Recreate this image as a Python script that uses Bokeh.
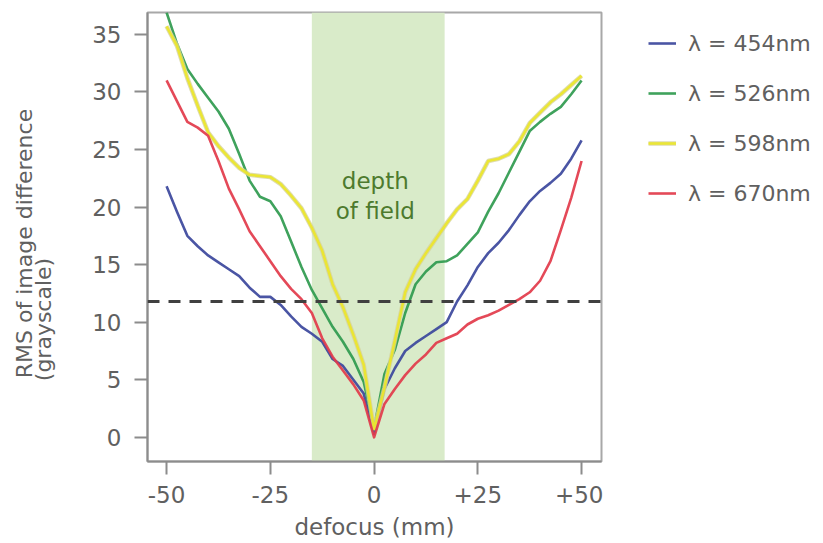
import math

from bokeh.embed import file_html
from bokeh.layouts import row
from bokeh.models import (BoxAnnotation, FixedTicker, Label, Legend, LegendItem,
                          Range1d, Span)
from bokeh.plotting import figure
from bokeh.resources import INLINE

# Defocus positions (mm) at which the image difference was measured
defocus_mm = [-50.0, -47.5, -45.0, -42.5, -40.0, -37.5, -35.0, -32.5, -30.0, -27.5,
              -25.0, -22.5, -20.0, -17.5, -15.0, -12.5, -10.0, -7.5, -5.0, -2.5,
              0.0, 2.5, 5.0, 7.5, 10.0, 12.5, 15.0, 17.5, 20.0, 22.5,
              25.0, 27.5, 30.0, 32.5, 35.0, 37.5, 40.0, 42.5, 45.0, 47.5, 50.0]

# RMS of image difference (grayscale) for each wavelength
rms_454 = [21.8, 19.6, 17.5, 16.6, 15.8, 15.2, 14.6, 14.0, 13.0, 12.2,
           12.2, 11.5, 10.5, 9.6, 9.0, 8.3, 6.8, 6.2, 5.0, 3.8,
           0.3, 4.2, 6.0, 7.5, 8.2, 8.8, 9.4, 10.0, 11.8, 13.2,
           14.8, 16.0, 16.9, 18.0, 19.3, 20.5, 21.4, 22.1, 22.9, 24.2, 25.8]
rms_526 = [36.9, 34.2, 32.0, 30.7, 29.5, 28.3, 26.8, 24.6, 22.3, 20.9,
           20.5, 19.2, 17.0, 14.8, 12.8, 11.2, 9.6, 8.3, 6.8, 4.8,
           0.8, 5.5, 7.6, 10.8, 13.3, 14.4, 15.2, 15.3, 15.8, 16.8,
           17.8, 19.6, 21.2, 23.0, 24.8, 26.6, 27.4, 28.1, 28.7, 29.8, 31.0]
rms_598 = [35.7, 34.0, 31.2, 28.8, 26.5, 25.3, 24.3, 23.4, 22.8, 22.7,
           22.6, 22.0, 21.0, 19.9, 18.2, 16.2, 13.3, 11.3, 8.9, 6.3,
           0.7, 4.3, 8.4, 12.6, 14.6, 16.0, 17.3, 18.6, 19.8, 20.7,
           22.3, 24.0, 24.2, 24.6, 25.7, 27.3, 28.2, 29.1, 29.8, 30.6, 31.4]
rms_670 = [31.0, 29.2, 27.4, 26.9, 26.2, 24.0, 21.6, 19.8, 17.9, 16.6,
           15.3, 14.0, 12.9, 12.0, 10.8, 8.6, 7.0, 5.8, 4.6, 3.2,
           0.0, 2.9, 4.2, 5.4, 6.4, 7.2, 8.2, 8.6, 9.0, 9.8,
           10.3, 10.6, 11.0, 11.5, 12.0, 12.6, 13.6, 15.3, 18.0, 20.8, 24.0]

series_labels = ["λ = 454nm", "λ = 526nm", "λ = 598nm", "λ = 670nm"]
series_colors = ["#3b479c", "#2f9a4e", "#ece62a", "#e23a4a"]
YELLOW_HALO = "#d6d39c"

x_ticks = [-50, -25, 0, 25, 50]
x_tick_labels = ["-50", "-25", "0", "+25", "+50"]
y_ticks = [0, 5, 10, 15, 20, 25, 30, 35]

threshold_rms = 11.8          # dashed reference level
dof_left, dof_right = -15, 17  # depth-of-field band (mm)

FONT = "DejaVu Sans"
TEXT_COLOR = "#606060"
AXIS_COLOR = "#8c8c8c"
HEIGHT = 543
FRAME_BOTTOM = 461   # pixel row of the plot frame's lower edge (frames are aligned in the row)


def bare_panel(width):
    """A plain canvas with no axes, used for the side texts."""
    f = figure(width=width, height=HEIGHT, output_backend="svg", toolbar_location=None,
               x_range=Range1d(0, 1), y_range=Range1d(0, 1),
               x_axis_location=None, y_axis_location=None,
               min_border=0, min_border_left=0, min_border_right=0,
               min_border_top=0, min_border_bottom=0)
    f.outline_line_color = None
    f.grid.visible = False
    f.background_fill_color = "white"
    f.border_fill_color = "white"
    return f


# ---- main chart ----
p = figure(width=543, height=HEIGHT, output_backend="svg", toolbar_location=None,
           x_range=Range1d(-54.6, 54.8), y_range=Range1d(-2.1, 36.9),
           min_border_left=87, min_border_right=2,
           min_border_top=12, min_border_bottom=82)

p.background_fill_color = "white"
p.border_fill_color = "white"
p.outline_line_color = "#a8a8a8"
p.outline_line_width = 2
p.grid.visible = False

for ax in (p.xaxis[0], p.yaxis[0]):
    ax.axis_line_color = AXIS_COLOR
    ax.axis_line_width = 2
    ax.major_tick_line_color = AXIS_COLOR
    ax.major_tick_line_width = 2
    ax.major_tick_in = 0
    ax.major_tick_out = 13
    ax.minor_tick_line_color = None
    ax.major_label_text_font = FONT
    ax.major_label_text_font_size = "23px"
    ax.major_label_text_color = TEXT_COLOR

p.xaxis.ticker = FixedTicker(ticks=x_ticks)
p.xaxis.major_label_overrides = dict(zip(x_ticks, x_tick_labels))
p.xaxis.major_label_standoff = 11
p.xaxis.axis_label = "defocus (mm)"
p.xaxis.axis_label_text_font = FONT
p.xaxis.axis_label_text_font_size = "23px"
p.xaxis.axis_label_text_font_style = "normal"
p.xaxis.axis_label_text_color = TEXT_COLOR
p.xaxis.axis_label_standoff = 8

p.yaxis.ticker = FixedTicker(ticks=y_ticks)
p.yaxis.major_label_standoff = 13

# depth-of-field band
p.add_layout(BoxAnnotation(left=dof_left, right=dof_right, fill_color="#d9ebc9",
                           fill_alpha=1.0, line_color=None, level="underlay"))

# threshold line
p.add_layout(Span(location=threshold_rms, dimension="width", line_color="#404040",
                  line_width=3, line_dash="12 9"))

series = [rms_454, rms_526, rms_598, rms_670]
for color, values in zip(series_colors, series):
    if color == "#ece62a":
        p.line(defocus_mm, values, line_color=YELLOW_HALO, line_width=4.5, line_alpha=0.8)
    p.line(defocus_mm, values, line_color=color, line_width=2.6,
           line_alpha=0.92, line_join="round")

# band caption
for txt, yv in (("depth", 22.3), ("of field", 19.7)):
    p.add_layout(Label(x=0.3, y=yv, text=txt, text_align="center",
                       text_baseline="middle", text_font=FONT,
                       text_font_size="23px", text_color="#4d7a2e"))

# ---- y-axis title (two lines, rotated) ----
ytitle = bare_panel(60)
for txt, sx, sy in (("RMS of image difference", 24, FRAME_BOTTOM - 243),
                    ("(grayscale)", 43, FRAME_BOTTOM - 319)):
    ytitle.add_layout(Label(x=sx, y=sy, x_units="screen", y_units="screen",
                            text=txt, angle=math.pi / 2, text_align="center",
                            text_baseline="middle", text_font=FONT,
                            text_font_size="22px", text_color=TEXT_COLOR))

# ---- legend (keys are placeholder lines with a single NaN point) ----
key = bare_panel(220)
items = []
for label, color in zip(series_labels, series_colors):
    keys = []
    if color == "#ece62a":
        keys.append(key.line([math.nan], [math.nan], line_color=YELLOW_HALO,
                             line_width=4.5, line_alpha=0.8))
    keys.append(key.line([math.nan], [math.nan], line_color=color, line_width=2.6,
                         line_alpha=0.92))
    items.append(LegendItem(label=label, renderers=keys))

key.add_layout(Legend(items=items, location=(45, FRAME_BOTTOM - 206),
                      orientation="vertical",
                      glyph_width=28, glyph_height=26, label_height=26, spacing=24,
                      label_standoff=12, padding=0, margin=0,
                      label_text_font=FONT, label_text_font_size="22px",
                      label_text_color=TEXT_COLOR,
                      background_fill_alpha=0, border_line_color=None))

layout = row(ytitle, p, key, spacing=0)
open("out.html", "w").write(file_html(layout, INLINE))
